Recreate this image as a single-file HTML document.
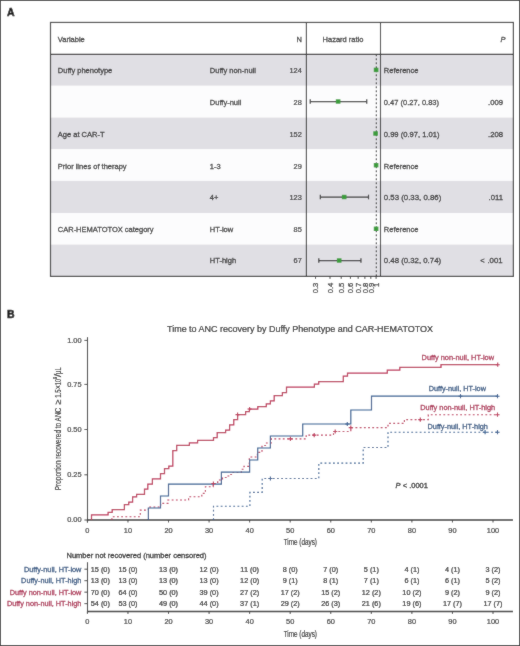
<!DOCTYPE html>
<html><head><meta charset="utf-8"><style>
html,body{margin:0;padding:0;background:#fff;}
svg{display:block;font-family:"Liberation Sans", sans-serif;will-change:transform;}
</style></head><body>
<svg width="520" height="646" viewBox="0 0 520 646">
<defs><filter id="soft" x="0" y="0" width="520" height="646" filterUnits="userSpaceOnUse"><feConvolveMatrix order="3" kernelMatrix="1 2 1 2 28 2 1 2 1" divisor="40" edgeMode="duplicate"/></filter></defs><g filter="url(#soft)">
<rect x="0.5" y="0.5" width="519" height="645" fill="#fff" stroke="#444" stroke-width="1"/>
<text x="7" y="16" font-size="10.5" font-weight="bold" fill="#111" stroke="#111" stroke-width="0.5">A</text>
<rect x="50.5" y="54.40" width="462.9" height="31.40" fill="#e0dfe4"/>
<rect x="50.5" y="85.80" width="462.9" height="31.80" fill="#fcfcfd"/>
<rect x="50.5" y="117.60" width="462.9" height="31.70" fill="#e0dfe4"/>
<rect x="50.5" y="149.30" width="462.9" height="31.60" fill="#fcfcfd"/>
<rect x="50.5" y="180.90" width="462.9" height="32.20" fill="#e0dfe4"/>
<rect x="50.5" y="213.10" width="462.9" height="31.50" fill="#fcfcfd"/>
<rect x="50.5" y="244.60" width="462.9" height="31.80" fill="#e0dfe4"/>
<line x1="376.3" y1="54.4" x2="376.3" y2="276.4" stroke="#222" stroke-width="1" stroke-dasharray="1.8 2.2"/>
<rect x="50.5" y="22.45" width="462.9" height="253.95" fill="none" stroke="#333333" stroke-width="1.2"/>
<line x1="50.5" y1="54.4" x2="513.4" y2="54.4" stroke="#333333" stroke-width="1.2"/>
<line x1="306.4" y1="22.45" x2="306.4" y2="276.40" stroke="#333333" stroke-width="1.1"/>
<line x1="380.5" y1="22.45" x2="380.5" y2="276.40" stroke="#333333" stroke-width="1.1"/>
<text transform="translate(57.8,42.2) scale(1,1.03)" font-size="7.50" text-anchor="start" fill="#333" stroke="#333" stroke-width="0.25" >Variable</text>
<text transform="translate(301.8,42.2) scale(1,1.03)" font-size="7.50" text-anchor="end" fill="#333" stroke="#333" stroke-width="0.25" >N</text>
<text transform="translate(343.0,42.2) scale(1,1.03)" font-size="7.50" text-anchor="middle" fill="#333" stroke="#333" stroke-width="0.25" >Hazard ratio</text>
<text transform="translate(505.5,42.2) scale(1,1.03)" font-size="7.50" text-anchor="end" fill="#333" stroke="#333" stroke-width="0.25" font-style="italic">P</text>
<text transform="translate(57.8,72.90) scale(1,1.03)" font-size="7.50" text-anchor="start" fill="#333" stroke="#333" stroke-width="0.25" >Duffy phenotype</text>
<text transform="translate(209.8,72.90) scale(1,1.03)" font-size="7.50" text-anchor="start" fill="#333" stroke="#333" stroke-width="0.25" >Duffy non-null</text>
<text transform="translate(301.8,72.90) scale(1,1)" font-size="7.40" text-anchor="end" fill="#333" stroke="#333" stroke-width="0.2" >124</text>
<text transform="translate(383.8,72.90) scale(1,1.03)" font-size="7.50" text-anchor="start" fill="#333" stroke="#333" stroke-width="0.25" >Reference</text>
<rect x="373.80" y="67.70" width="4.6" height="4.4" fill="#3a9c3a"/>
<text transform="translate(209.8,104.70) scale(1,1.03)" font-size="7.50" text-anchor="start" fill="#333" stroke="#333" stroke-width="0.25" >Duffy-null</text>
<text transform="translate(301.8,104.70) scale(1,1)" font-size="7.40" text-anchor="end" fill="#333" stroke="#333" stroke-width="0.2" >28</text>
<text transform="translate(383.8,104.70) scale(1,1.03)" font-size="7.54" text-anchor="start" fill="#333" stroke="#333" stroke-width="0.25" >0.47 (0.27, 0.83)</text>
<text transform="translate(503.0,104.70) scale(1,1.03)" font-size="7.70" text-anchor="end" fill="#333" stroke="#333" stroke-width="0.25" >.009</text>
<line x1="310.24" y1="101.50" x2="366.73" y2="101.50" stroke="#3a3a3a" stroke-width="1.25"/>
<line x1="310.24" y1="99.20" x2="310.24" y2="103.80" stroke="#3a3a3a" stroke-width="1.2"/>
<line x1="366.73" y1="99.20" x2="366.73" y2="103.80" stroke="#3a3a3a" stroke-width="1.2"/>
<rect x="335.82" y="99.30" width="4.6" height="4.4" fill="#3a9c3a"/>
<text transform="translate(57.8,137.00) scale(1,1.03)" font-size="7.50" text-anchor="start" fill="#333" stroke="#333" stroke-width="0.25" >Age at CAR-T</text>
<text transform="translate(301.8,137.00) scale(1,1)" font-size="7.40" text-anchor="end" fill="#333" stroke="#333" stroke-width="0.2" >152</text>
<text transform="translate(383.8,137.00) scale(1,1.03)" font-size="7.60" text-anchor="start" fill="#333" stroke="#333" stroke-width="0.25" >0.99 (0.97, 1.01)</text>
<text transform="translate(503.0,137.00) scale(1,1.03)" font-size="7.70" text-anchor="end" fill="#333" stroke="#333" stroke-width="0.25" >.208</text>
<rect x="373.29" y="131.30" width="4.6" height="4.4" fill="#3a9c3a"/>
<text transform="translate(57.8,169.10) scale(1,1.03)" font-size="7.50" text-anchor="start" fill="#333" stroke="#333" stroke-width="0.25" >Prior lines of therapy</text>
<text transform="translate(209.8,169.10) scale(1,1.03)" font-size="7.50" text-anchor="start" fill="#333" stroke="#333" stroke-width="0.25" >1-3</text>
<text transform="translate(301.8,169.10) scale(1,1)" font-size="7.40" text-anchor="end" fill="#333" stroke="#333" stroke-width="0.2" >29</text>
<text transform="translate(383.8,169.10) scale(1,1.03)" font-size="7.50" text-anchor="start" fill="#333" stroke="#333" stroke-width="0.25" >Reference</text>
<rect x="373.80" y="163.00" width="4.6" height="4.4" fill="#3a9c3a"/>
<text transform="translate(209.8,199.70) scale(1,1.03)" font-size="7.50" text-anchor="start" fill="#333" stroke="#333" stroke-width="0.25" >4+</text>
<text transform="translate(301.8,199.70) scale(1,1)" font-size="7.40" text-anchor="end" fill="#333" stroke="#333" stroke-width="0.2" >123</text>
<text transform="translate(383.8,199.70) scale(1,1.03)" font-size="7.85" text-anchor="start" fill="#333" stroke="#333" stroke-width="0.25" >0.53 (0.33, 0.86)</text>
<text transform="translate(503.0,199.70) scale(1,1.03)" font-size="7.70" text-anchor="end" fill="#333" stroke="#333" stroke-width="0.25" >.011</text>
<line x1="320.33" y1="197.00" x2="368.51" y2="197.00" stroke="#3a3a3a" stroke-width="1.25"/>
<line x1="320.33" y1="194.70" x2="320.33" y2="199.30" stroke="#3a3a3a" stroke-width="1.2"/>
<line x1="368.51" y1="194.70" x2="368.51" y2="199.30" stroke="#3a3a3a" stroke-width="1.2"/>
<rect x="341.87" y="194.80" width="4.6" height="4.4" fill="#3a9c3a"/>
<text transform="translate(57.8,232.30) scale(1,1.03)" font-size="7.50" text-anchor="start" fill="#333" stroke="#333" stroke-width="0.25" >CAR-HEMATOTOX category</text>
<text transform="translate(209.8,232.30) scale(1,1.03)" font-size="7.50" text-anchor="start" fill="#333" stroke="#333" stroke-width="0.25" >HT-low</text>
<text transform="translate(301.8,232.30) scale(1,1)" font-size="7.40" text-anchor="end" fill="#333" stroke="#333" stroke-width="0.2" >85</text>
<text transform="translate(383.8,232.30) scale(1,1.03)" font-size="7.50" text-anchor="start" fill="#333" stroke="#333" stroke-width="0.25" >Reference</text>
<rect x="373.80" y="226.60" width="4.6" height="4.4" fill="#3a9c3a"/>
<text transform="translate(209.8,263.40) scale(1,1.03)" font-size="7.50" text-anchor="start" fill="#333" stroke="#333" stroke-width="0.25" >HT-high</text>
<text transform="translate(301.8,263.40) scale(1,1)" font-size="7.40" text-anchor="end" fill="#333" stroke="#333" stroke-width="0.2" >67</text>
<text transform="translate(383.8,263.40) scale(1,1.03)" font-size="7.82" text-anchor="start" fill="#333" stroke="#333" stroke-width="0.25" >0.48 (0.32, 0.74)</text>
<text transform="translate(502.6,263.40) scale(1,1.03)" font-size="7.80" text-anchor="end" fill="#333" stroke="#333" stroke-width="0.25" >.001</text>
<text transform="translate(484.6,263.40) scale(1,1.03)" font-size="7.50" text-anchor="end" fill="#333" stroke="#333" stroke-width="0.25" >&lt;</text>
<line x1="318.79" y1="260.50" x2="360.95" y2="260.50" stroke="#3a3a3a" stroke-width="1.25"/>
<line x1="318.79" y1="258.20" x2="318.79" y2="262.80" stroke="#3a3a3a" stroke-width="1.2"/>
<line x1="360.95" y1="258.20" x2="360.95" y2="262.80" stroke="#3a3a3a" stroke-width="1.2"/>
<rect x="336.88" y="258.30" width="4.6" height="4.4" fill="#3a9c3a"/>
<line x1="315.54" y1="276.40" x2="315.54" y2="278.90" stroke="#333" stroke-width="0.9"/>
<text transform="translate(318.24,282.6) rotate(-90)" font-size="7.7" text-anchor="end" fill="#333" stroke="#333" stroke-width="0.25">0.3</text>
<line x1="330.01" y1="276.40" x2="330.01" y2="278.90" stroke="#333" stroke-width="0.9"/>
<text transform="translate(332.71,282.6) rotate(-90)" font-size="7.7" text-anchor="end" fill="#333" stroke="#333" stroke-width="0.25">0.4</text>
<line x1="341.23" y1="276.40" x2="341.23" y2="278.90" stroke="#333" stroke-width="0.9"/>
<text transform="translate(343.93,282.6) rotate(-90)" font-size="7.7" text-anchor="end" fill="#333" stroke="#333" stroke-width="0.25">0.5</text>
<line x1="350.41" y1="276.40" x2="350.41" y2="278.90" stroke="#333" stroke-width="0.9"/>
<text transform="translate(353.11,282.6) rotate(-90)" font-size="7.7" text-anchor="end" fill="#333" stroke="#333" stroke-width="0.25">0.6</text>
<line x1="358.16" y1="276.40" x2="358.16" y2="278.90" stroke="#333" stroke-width="0.9"/>
<text transform="translate(360.86,282.6) rotate(-90)" font-size="7.7" text-anchor="end" fill="#333" stroke="#333" stroke-width="0.25">0.7</text>
<line x1="364.88" y1="276.40" x2="364.88" y2="278.90" stroke="#333" stroke-width="0.9"/>
<text transform="translate(367.58,282.6) rotate(-90)" font-size="7.7" text-anchor="end" fill="#333" stroke="#333" stroke-width="0.25">0.8</text>
<line x1="370.80" y1="276.40" x2="370.80" y2="278.90" stroke="#333" stroke-width="0.9"/>
<text transform="translate(373.50,282.6) rotate(-90)" font-size="7.7" text-anchor="end" fill="#333" stroke="#333" stroke-width="0.25">0.9</text>
<line x1="376.10" y1="276.40" x2="376.10" y2="278.90" stroke="#333" stroke-width="0.9"/>
<text transform="translate(378.80,282.6) rotate(-90)" font-size="7.7" text-anchor="end" fill="#333" stroke="#333" stroke-width="0.25">1</text>
<text x="7" y="317.6" font-size="10.5" font-weight="bold" fill="#111" stroke="#111" stroke-width="0.5">B</text>
<text transform="translate(167.0,331.6) scale(0.915,1)" font-size="9.83" text-anchor="start" fill="#222" stroke="#222" stroke-width="0.2" >Time to ANC recovery by Duffy Phenotype and CAR-HEMATOTOX</text>
<line x1="87.5" y1="337.2" x2="87.5" y2="522.5" stroke="#222" stroke-width="1.1"/>
<line x1="87.0" y1="520" x2="513" y2="520" stroke="#333" stroke-width="1.3"/>
<line x1="84.4" y1="520.00" x2="87.5" y2="520.00" stroke="#333" stroke-width="0.9"/>
<text transform="translate(81.6,522.40) scale(1,1)" font-size="7.40" text-anchor="end" fill="#333" stroke="#333" stroke-width="0.2" >0.00</text>
<line x1="84.4" y1="474.80" x2="87.5" y2="474.80" stroke="#333" stroke-width="0.9"/>
<text transform="translate(81.6,477.20) scale(1,1)" font-size="7.40" text-anchor="end" fill="#333" stroke="#333" stroke-width="0.2" >0.25</text>
<line x1="84.4" y1="429.50" x2="87.5" y2="429.50" stroke="#333" stroke-width="0.9"/>
<text transform="translate(81.6,431.90) scale(1,1)" font-size="7.40" text-anchor="end" fill="#333" stroke="#333" stroke-width="0.2" >0.50</text>
<line x1="84.4" y1="384.40" x2="87.5" y2="384.40" stroke="#333" stroke-width="0.9"/>
<text transform="translate(81.6,386.80) scale(1,1)" font-size="7.40" text-anchor="end" fill="#333" stroke="#333" stroke-width="0.2" >0.75</text>
<line x1="84.4" y1="340.40" x2="87.5" y2="340.40" stroke="#333" stroke-width="0.9"/>
<text transform="translate(81.6,342.80) scale(1,1)" font-size="7.40" text-anchor="end" fill="#333" stroke="#333" stroke-width="0.2" >1.00</text>
<line x1="87.40" y1="520" x2="87.40" y2="522.5" stroke="#333" stroke-width="0.9"/>
<text transform="translate(87.40,532.7) scale(1,1)" font-size="7.40" text-anchor="middle" fill="#333" stroke="#333" stroke-width="0.2" >0</text>
<line x1="127.96" y1="520" x2="127.96" y2="522.5" stroke="#333" stroke-width="0.9"/>
<text transform="translate(127.96,532.7) scale(1,1)" font-size="7.40" text-anchor="middle" fill="#333" stroke="#333" stroke-width="0.2" >10</text>
<line x1="168.52" y1="520" x2="168.52" y2="522.5" stroke="#333" stroke-width="0.9"/>
<text transform="translate(168.52,532.7) scale(1,1)" font-size="7.40" text-anchor="middle" fill="#333" stroke="#333" stroke-width="0.2" >20</text>
<line x1="209.08" y1="520" x2="209.08" y2="522.5" stroke="#333" stroke-width="0.9"/>
<text transform="translate(209.08,532.7) scale(1,1)" font-size="7.40" text-anchor="middle" fill="#333" stroke="#333" stroke-width="0.2" >30</text>
<line x1="249.64" y1="520" x2="249.64" y2="522.5" stroke="#333" stroke-width="0.9"/>
<text transform="translate(249.64,532.7) scale(1,1)" font-size="7.40" text-anchor="middle" fill="#333" stroke="#333" stroke-width="0.2" >40</text>
<line x1="290.20" y1="520" x2="290.20" y2="522.5" stroke="#333" stroke-width="0.9"/>
<text transform="translate(290.20,532.7) scale(1,1)" font-size="7.40" text-anchor="middle" fill="#333" stroke="#333" stroke-width="0.2" >50</text>
<line x1="330.76" y1="520" x2="330.76" y2="522.5" stroke="#333" stroke-width="0.9"/>
<text transform="translate(330.76,532.7) scale(1,1)" font-size="7.40" text-anchor="middle" fill="#333" stroke="#333" stroke-width="0.2" >60</text>
<line x1="371.32" y1="520" x2="371.32" y2="522.5" stroke="#333" stroke-width="0.9"/>
<text transform="translate(371.32,532.7) scale(1,1)" font-size="7.40" text-anchor="middle" fill="#333" stroke="#333" stroke-width="0.2" >70</text>
<line x1="411.88" y1="520" x2="411.88" y2="522.5" stroke="#333" stroke-width="0.9"/>
<text transform="translate(411.88,532.7) scale(1,1)" font-size="7.40" text-anchor="middle" fill="#333" stroke="#333" stroke-width="0.2" >80</text>
<line x1="452.44" y1="520" x2="452.44" y2="522.5" stroke="#333" stroke-width="0.9"/>
<text transform="translate(452.44,532.7) scale(1,1)" font-size="7.40" text-anchor="middle" fill="#333" stroke="#333" stroke-width="0.2" >90</text>
<line x1="493.00" y1="520" x2="493.00" y2="522.5" stroke="#333" stroke-width="0.9"/>
<text transform="translate(493.00,532.7) scale(1,1)" font-size="7.40" text-anchor="middle" fill="#333" stroke="#333" stroke-width="0.2" >100</text>
<text transform="translate(300.3,545.4) scale(0.708,1)" font-size="9" text-anchor="middle" fill="#222" stroke="#222" stroke-width="0.15">Time (days)</text>
<text transform="translate(60.8,490.2) rotate(-90)" font-size="9" textLength="82.4" lengthAdjust="spacingAndGlyphs" fill="#222" stroke="#222" stroke-width="0.15">Proportion recovered to ANC</text>
<text transform="translate(60.8,404.3) rotate(-90)" font-size="9" textLength="4.8" lengthAdjust="spacingAndGlyphs" fill="#222" stroke="#222" stroke-width="0.15">≥</text>
<text transform="translate(60.8,397.8) rotate(-90)" font-size="9" textLength="8.6" lengthAdjust="spacingAndGlyphs" fill="#222" stroke="#222" stroke-width="0.15">1.5</text>
<text transform="translate(60.8,389.2) rotate(-90)" font-size="9" textLength="4.2" lengthAdjust="spacingAndGlyphs" fill="#222" stroke="#222" stroke-width="0.15">×</text>
<text transform="translate(60.8,385.2) rotate(-90)" font-size="9" textLength="6.2" lengthAdjust="spacingAndGlyphs" fill="#222" stroke="#222" stroke-width="0.15">10</text>
<text transform="translate(57.2,379.2) rotate(-90)" font-size="5.4" textLength="2.4" lengthAdjust="spacingAndGlyphs" fill="#222" stroke="#222" stroke-width="0.15">9</text>
<text transform="translate(60.8,377.2) rotate(-90)" font-size="9" textLength="3.4" lengthAdjust="spacingAndGlyphs" fill="#222" stroke="#222" stroke-width="0.15">/</text>
<text transform="translate(60.8,373.9) rotate(-90)" font-size="9" textLength="6.6" lengthAdjust="spacingAndGlyphs" fill="#222" stroke="#222" stroke-width="0.15">µL</text>
<text transform="translate(395.6,487.5) scale(1,1.03)" font-size="7.50" text-anchor="start" fill="#222" stroke="#222" stroke-width="0.25" ><tspan font-style="italic">P</tspan> &lt; .0001</text>
<path d="M213.5,520 H213.5 V506.2 H249.9 V492.3 H262.2 V478.5 H318.8 V463.1 H363.2 V447.5 H388 V432.2 H497.5" fill="none" stroke="#305c90" stroke-width="1.15" stroke-dasharray="1.8 2.4"/>
<path d="M111.9,520 H111.9 V516.7 H140.3 V510.1 H148.4 V507.0 H160.6 V503.3 H167.9 V500 H188.6 V496.7 H201.8 V493.3 H205.4 V486.7 H213.2 V483.5 H217.7 V480 H222.5 V477.5 H227 V476 H229.5 V474.5 H231.5 V472.5 H241.3 V469.2 H244 V466.3 H249.3 V457 H257.4 V452.3 H262 V445.5 H265.5 V443 H271.2 V438.9 H306.2 V435.1 H333.5 V431.5 H350.8 V427.6 H388 V423.4 H404.4 V419.6 H428.3 V414.7 H497.5" fill="none" stroke="#bb2e54" stroke-width="1.15" stroke-dasharray="1.8 2.4"/>
<path d="M148.4,520 H148.4 V508 H160.5 V496 H168.5 V484.2 H221.4 V472.2 H249.6 V460 H257.7 V448 H270.4 V436 H302.7 V424 H350.8 V410 H371.5 V396.2 H497.5" fill="none" stroke="#305c90" stroke-width="1.2"/>
<path d="M91.5,520 H91.5 V514.9 H108.1 V512.4 H112.2 V509.7 H124.4 V504.6 H128.75 V502 H132.6 V496.9 H136.6 V494.3 H144.5 V489.1 H147.8 V484.0 H152.4 V478.9 H160.5 V473.7 H164.5 V468.6 H168.8 V466.0 H172.8 V450.6 H176.7 V445.4 H189.4 V442.9 H197.6 V440.3 H213.5 V437.7 H217.2 V432.6 H225.6 V430.0 H229.6 V424.9 H233.75 V419.7 H237.6 V414.6 H245.6 V411.7 H249.4 V409.0 H257.8 V406.5 H266.3 V403.75 H270.4 V400.9 H274.2 V395.6 H282.4 V392.5 H286.5 V387.0 H314.4 V384.2 H318.7 V381.7 H343.3 V376.2 H347.5 V373.0 H387.3 V370.2 H399.8 V367.3 H441.0 V364.7 H497.7" fill="none" stroke="#bb2e54" stroke-width="1.25"/>
<path d="M235.5,414.6 h4.2 M237.6,412.5 v4.2" stroke="#bb2e54" stroke-width="1.1"/>
<path d="M247.5,409.0 h4.2 M249.6,406.9 v4.2" stroke="#bb2e54" stroke-width="1.1"/>
<path d="M495.59999999999997,364.7 h4.2 M497.7,362.59999999999997 v4.2" stroke="#bb2e54" stroke-width="1.1"/>
<path d="M345.2,424 h4.2 M347.3,421.9 v4.2" stroke="#305c90" stroke-width="1.1"/>
<path d="M458.4,396.2 h4.2 M460.5,394.09999999999997 v4.2" stroke="#305c90" stroke-width="1.1"/>
<path d="M495.4,396.2 h4.2 M497.5,394.09999999999997 v4.2" stroke="#305c90" stroke-width="1.1"/>
<path d="M211.3,483.5 h4.2 M213.4,481.4 v4.2" stroke="#bb2e54" stroke-width="1.1"/>
<path d="M288.29999999999995,438.9 h4.2 M290.4,436.79999999999995 v4.2" stroke="#bb2e54" stroke-width="1.1"/>
<path d="M312.09999999999997,435.1 h4.2 M314.2,433.0 v4.2" stroke="#bb2e54" stroke-width="1.1"/>
<path d="M333.09999999999997,431.5 h4.2 M335.2,429.4 v4.2" stroke="#bb2e54" stroke-width="1.1"/>
<path d="M348.7,427.6 h4.2 M350.8,425.5 v4.2" stroke="#bb2e54" stroke-width="1.1"/>
<path d="M418.2,419.6 h4.2 M420.3,417.5 v4.2" stroke="#bb2e54" stroke-width="1.1"/>
<path d="M495.4,414.7 h4.2 M497.5,412.59999999999997 v4.2" stroke="#bb2e54" stroke-width="1.1"/>
<path d="M268.29999999999995,478.5 h4.2 M270.4,476.4 v4.2" stroke="#305c90" stroke-width="1.1"/>
<path d="M483.0,432.2 h4.2 M485.1,430.09999999999997 v4.2" stroke="#305c90" stroke-width="1.1"/>
<path d="M495.4,432.2 h4.2 M497.5,430.09999999999997 v4.2" stroke="#305c90" stroke-width="1.1"/>
<text transform="translate(421.6,360) scale(1,1.03)" font-size="7.38" text-anchor="start" fill="#a8284c" stroke="#a8284c" stroke-width="0.25" >Duffy non-null, HT-low</text>
<text transform="translate(428.8,391) scale(1,1.03)" font-size="7.27" text-anchor="start" fill="#2b4f7c" stroke="#2b4f7c" stroke-width="0.25" >Duffy-null, HT-low</text>
<text transform="translate(420.3,409.9) scale(1,1.03)" font-size="7.33" text-anchor="start" fill="#a8284c" stroke="#a8284c" stroke-width="0.25" >Duffy non-null, HT-high</text>
<text transform="translate(427.6,428.6) scale(1,1.03)" font-size="7.31" text-anchor="start" fill="#2b4f7c" stroke="#2b4f7c" stroke-width="0.25" >Duffy-null, HT-high</text>
<text transform="translate(66.5,557.7) scale(1,1.03)" font-size="7.50" text-anchor="start" fill="#222" stroke="#222" stroke-width="0.25" >Number not recovered (number censored)</text>
<line x1="87.5" y1="562.3" x2="87.5" y2="612.8" stroke="#222" stroke-width="1.1"/>
<line x1="87.0" y1="611.5" x2="513" y2="611.5" stroke="#333" stroke-width="1.3"/>
<text transform="translate(81.4,571.80) scale(1,1.03)" font-size="7.30" text-anchor="end" fill="#2b4f7c" stroke="#2b4f7c" stroke-width="0.25" >Duffy-null, HT-low</text>
<line x1="84.4" y1="569.20" x2="87.5" y2="569.20" stroke="#333" stroke-width="0.9"/>
<text transform="translate(90.8,571.80) scale(1,1)" font-size="7.30" text-anchor="start" fill="#222" stroke="#222" stroke-width="0.2" >15 (0)</text>
<text transform="translate(127.96,571.80) scale(1,1)" font-size="7.30" text-anchor="middle" fill="#222" stroke="#222" stroke-width="0.2" >15 (0)</text>
<text transform="translate(168.52,571.80) scale(1,1)" font-size="7.30" text-anchor="middle" fill="#222" stroke="#222" stroke-width="0.2" >13 (0)</text>
<text transform="translate(209.08,571.80) scale(1,1)" font-size="7.30" text-anchor="middle" fill="#222" stroke="#222" stroke-width="0.2" >12 (0)</text>
<text transform="translate(249.64,571.80) scale(1,1)" font-size="7.30" text-anchor="middle" fill="#222" stroke="#222" stroke-width="0.2" >11 (0)</text>
<text transform="translate(290.20,571.80) scale(1,1)" font-size="7.30" text-anchor="middle" fill="#222" stroke="#222" stroke-width="0.2" >8 (0)</text>
<text transform="translate(330.76,571.80) scale(1,1)" font-size="7.30" text-anchor="middle" fill="#222" stroke="#222" stroke-width="0.2" >7 (0)</text>
<text transform="translate(371.32,571.80) scale(1,1)" font-size="7.30" text-anchor="middle" fill="#222" stroke="#222" stroke-width="0.2" >5 (1)</text>
<text transform="translate(411.88,571.80) scale(1,1)" font-size="7.30" text-anchor="middle" fill="#222" stroke="#222" stroke-width="0.2" >4 (1)</text>
<text transform="translate(452.44,571.80) scale(1,1)" font-size="7.30" text-anchor="middle" fill="#222" stroke="#222" stroke-width="0.2" >4 (1)</text>
<text transform="translate(493.00,571.80) scale(1,1)" font-size="7.30" text-anchor="middle" fill="#222" stroke="#222" stroke-width="0.2" >3 (2)</text>
<text transform="translate(81.4,583.28) scale(1,1.03)" font-size="7.30" text-anchor="end" fill="#2b4f7c" stroke="#2b4f7c" stroke-width="0.25" >Duffy-null, HT-high</text>
<line x1="84.4" y1="580.68" x2="87.5" y2="580.68" stroke="#333" stroke-width="0.9"/>
<text transform="translate(90.8,583.28) scale(1,1)" font-size="7.30" text-anchor="start" fill="#222" stroke="#222" stroke-width="0.2" >13 (0)</text>
<text transform="translate(127.96,583.28) scale(1,1)" font-size="7.30" text-anchor="middle" fill="#222" stroke="#222" stroke-width="0.2" >13 (0)</text>
<text transform="translate(168.52,583.28) scale(1,1)" font-size="7.30" text-anchor="middle" fill="#222" stroke="#222" stroke-width="0.2" >13 (0)</text>
<text transform="translate(209.08,583.28) scale(1,1)" font-size="7.30" text-anchor="middle" fill="#222" stroke="#222" stroke-width="0.2" >13 (0)</text>
<text transform="translate(249.64,583.28) scale(1,1)" font-size="7.30" text-anchor="middle" fill="#222" stroke="#222" stroke-width="0.2" >12 (0)</text>
<text transform="translate(290.20,583.28) scale(1,1)" font-size="7.30" text-anchor="middle" fill="#222" stroke="#222" stroke-width="0.2" >9 (1)</text>
<text transform="translate(330.76,583.28) scale(1,1)" font-size="7.30" text-anchor="middle" fill="#222" stroke="#222" stroke-width="0.2" >8 (1)</text>
<text transform="translate(371.32,583.28) scale(1,1)" font-size="7.30" text-anchor="middle" fill="#222" stroke="#222" stroke-width="0.2" >7 (1)</text>
<text transform="translate(411.88,583.28) scale(1,1)" font-size="7.30" text-anchor="middle" fill="#222" stroke="#222" stroke-width="0.2" >6 (1)</text>
<text transform="translate(452.44,583.28) scale(1,1)" font-size="7.30" text-anchor="middle" fill="#222" stroke="#222" stroke-width="0.2" >6 (1)</text>
<text transform="translate(493.00,583.28) scale(1,1)" font-size="7.30" text-anchor="middle" fill="#222" stroke="#222" stroke-width="0.2" >5 (2)</text>
<text transform="translate(81.4,594.76) scale(1,1.03)" font-size="7.30" text-anchor="end" fill="#a8284c" stroke="#a8284c" stroke-width="0.25" >Duffy non-null, HT-low</text>
<line x1="84.4" y1="592.16" x2="87.5" y2="592.16" stroke="#333" stroke-width="0.9"/>
<text transform="translate(90.8,594.76) scale(1,1)" font-size="7.30" text-anchor="start" fill="#222" stroke="#222" stroke-width="0.2" >70 (0)</text>
<text transform="translate(127.96,594.76) scale(1,1)" font-size="7.30" text-anchor="middle" fill="#222" stroke="#222" stroke-width="0.2" >64 (0)</text>
<text transform="translate(168.52,594.76) scale(1,1)" font-size="7.30" text-anchor="middle" fill="#222" stroke="#222" stroke-width="0.2" >50 (0)</text>
<text transform="translate(209.08,594.76) scale(1,1)" font-size="7.30" text-anchor="middle" fill="#222" stroke="#222" stroke-width="0.2" >39 (0)</text>
<text transform="translate(249.64,594.76) scale(1,1)" font-size="7.30" text-anchor="middle" fill="#222" stroke="#222" stroke-width="0.2" >27 (2)</text>
<text transform="translate(290.20,594.76) scale(1,1)" font-size="7.30" text-anchor="middle" fill="#222" stroke="#222" stroke-width="0.2" >17 (2)</text>
<text transform="translate(330.76,594.76) scale(1,1)" font-size="7.30" text-anchor="middle" fill="#222" stroke="#222" stroke-width="0.2" >15 (2)</text>
<text transform="translate(371.32,594.76) scale(1,1)" font-size="7.30" text-anchor="middle" fill="#222" stroke="#222" stroke-width="0.2" >12 (2)</text>
<text transform="translate(411.88,594.76) scale(1,1)" font-size="7.30" text-anchor="middle" fill="#222" stroke="#222" stroke-width="0.2" >10 (2)</text>
<text transform="translate(452.44,594.76) scale(1,1)" font-size="7.30" text-anchor="middle" fill="#222" stroke="#222" stroke-width="0.2" >9 (2)</text>
<text transform="translate(493.00,594.76) scale(1,1)" font-size="7.30" text-anchor="middle" fill="#222" stroke="#222" stroke-width="0.2" >9 (2)</text>
<text transform="translate(81.4,606.24) scale(1,1.03)" font-size="7.30" text-anchor="end" fill="#a8284c" stroke="#a8284c" stroke-width="0.25" >Duffy non-null, HT-high</text>
<line x1="84.4" y1="603.64" x2="87.5" y2="603.64" stroke="#333" stroke-width="0.9"/>
<text transform="translate(90.8,606.24) scale(1,1)" font-size="7.30" text-anchor="start" fill="#222" stroke="#222" stroke-width="0.2" >54 (0)</text>
<text transform="translate(127.96,606.24) scale(1,1)" font-size="7.30" text-anchor="middle" fill="#222" stroke="#222" stroke-width="0.2" >53 (0)</text>
<text transform="translate(168.52,606.24) scale(1,1)" font-size="7.30" text-anchor="middle" fill="#222" stroke="#222" stroke-width="0.2" >49 (0)</text>
<text transform="translate(209.08,606.24) scale(1,1)" font-size="7.30" text-anchor="middle" fill="#222" stroke="#222" stroke-width="0.2" >44 (0)</text>
<text transform="translate(249.64,606.24) scale(1,1)" font-size="7.30" text-anchor="middle" fill="#222" stroke="#222" stroke-width="0.2" >37 (1)</text>
<text transform="translate(290.20,606.24) scale(1,1)" font-size="7.30" text-anchor="middle" fill="#222" stroke="#222" stroke-width="0.2" >29 (2)</text>
<text transform="translate(330.76,606.24) scale(1,1)" font-size="7.30" text-anchor="middle" fill="#222" stroke="#222" stroke-width="0.2" >26 (3)</text>
<text transform="translate(371.32,606.24) scale(1,1)" font-size="7.30" text-anchor="middle" fill="#222" stroke="#222" stroke-width="0.2" >21 (6)</text>
<text transform="translate(411.88,606.24) scale(1,1)" font-size="7.30" text-anchor="middle" fill="#222" stroke="#222" stroke-width="0.2" >19 (6)</text>
<text transform="translate(452.44,606.24) scale(1,1)" font-size="7.30" text-anchor="middle" fill="#222" stroke="#222" stroke-width="0.2" >17 (7)</text>
<text transform="translate(493.00,606.24) scale(1,1)" font-size="7.30" text-anchor="middle" fill="#222" stroke="#222" stroke-width="0.2" >17 (7)</text>
<line x1="87.40" y1="611.5" x2="87.40" y2="614" stroke="#333" stroke-width="0.9"/>
<text transform="translate(87.40,623.7) scale(1,1)" font-size="7.40" text-anchor="middle" fill="#333" stroke="#333" stroke-width="0.2" >0</text>
<line x1="127.96" y1="611.5" x2="127.96" y2="614" stroke="#333" stroke-width="0.9"/>
<text transform="translate(127.96,623.7) scale(1,1)" font-size="7.40" text-anchor="middle" fill="#333" stroke="#333" stroke-width="0.2" >10</text>
<line x1="168.52" y1="611.5" x2="168.52" y2="614" stroke="#333" stroke-width="0.9"/>
<text transform="translate(168.52,623.7) scale(1,1)" font-size="7.40" text-anchor="middle" fill="#333" stroke="#333" stroke-width="0.2" >20</text>
<line x1="209.08" y1="611.5" x2="209.08" y2="614" stroke="#333" stroke-width="0.9"/>
<text transform="translate(209.08,623.7) scale(1,1)" font-size="7.40" text-anchor="middle" fill="#333" stroke="#333" stroke-width="0.2" >30</text>
<line x1="249.64" y1="611.5" x2="249.64" y2="614" stroke="#333" stroke-width="0.9"/>
<text transform="translate(249.64,623.7) scale(1,1)" font-size="7.40" text-anchor="middle" fill="#333" stroke="#333" stroke-width="0.2" >40</text>
<line x1="290.20" y1="611.5" x2="290.20" y2="614" stroke="#333" stroke-width="0.9"/>
<text transform="translate(290.20,623.7) scale(1,1)" font-size="7.40" text-anchor="middle" fill="#333" stroke="#333" stroke-width="0.2" >50</text>
<line x1="330.76" y1="611.5" x2="330.76" y2="614" stroke="#333" stroke-width="0.9"/>
<text transform="translate(330.76,623.7) scale(1,1)" font-size="7.40" text-anchor="middle" fill="#333" stroke="#333" stroke-width="0.2" >60</text>
<line x1="371.32" y1="611.5" x2="371.32" y2="614" stroke="#333" stroke-width="0.9"/>
<text transform="translate(371.32,623.7) scale(1,1)" font-size="7.40" text-anchor="middle" fill="#333" stroke="#333" stroke-width="0.2" >70</text>
<line x1="411.88" y1="611.5" x2="411.88" y2="614" stroke="#333" stroke-width="0.9"/>
<text transform="translate(411.88,623.7) scale(1,1)" font-size="7.40" text-anchor="middle" fill="#333" stroke="#333" stroke-width="0.2" >80</text>
<line x1="452.44" y1="611.5" x2="452.44" y2="614" stroke="#333" stroke-width="0.9"/>
<text transform="translate(452.44,623.7) scale(1,1)" font-size="7.40" text-anchor="middle" fill="#333" stroke="#333" stroke-width="0.2" >90</text>
<line x1="493.00" y1="611.5" x2="493.00" y2="614" stroke="#333" stroke-width="0.9"/>
<text transform="translate(493.00,623.7) scale(1,1)" font-size="7.40" text-anchor="middle" fill="#333" stroke="#333" stroke-width="0.2" >100</text>
<text transform="translate(300.3,637) scale(0.708,1)" font-size="9" text-anchor="middle" fill="#222" stroke="#222" stroke-width="0.15">Time (days)</text>
</g>
</svg></body></html>
